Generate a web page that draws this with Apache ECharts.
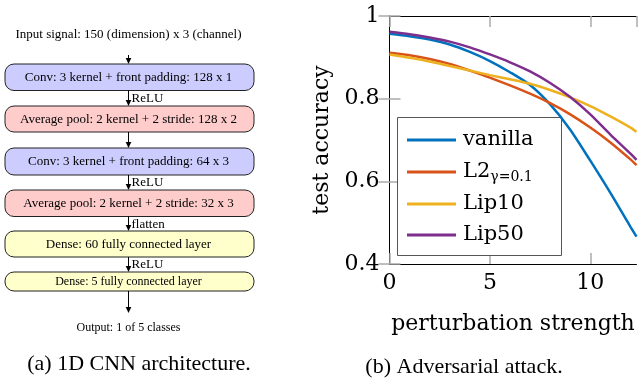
<!DOCTYPE html>
<html>
<head>
<meta charset="utf-8">
<script src="https://cdn.jsdelivr.net/npm/echarts@6/dist/echarts.min.js"></script>
<style>html,body{margin:0;padding:0;background:#fff}#c{width:639px;height:379px}</style>
</head>
<body>
<div id="c"></div>
<script>
// ---- data ----
const xs = [0, 1, 2, 3, 4, 5, 6, 7, 8, 9, 10, 11, 12, 12.3];
const vanilla = [0.957, 0.951, 0.943, 0.931, 0.913, 0.891, 0.864, 0.833, 0.786, 0.725, 0.650, 0.572, 0.490, 0.466];
const l2      = [0.911, 0.905, 0.896, 0.884, 0.868, 0.851, 0.832, 0.812, 0.789, 0.762, 0.730, 0.694, 0.653, 0.639];
const lip10   = [0.907, 0.899, 0.890, 0.879, 0.868, 0.857, 0.847, 0.836, 0.821, 0.803, 0.782, 0.757, 0.730, 0.720];
const lip50   = [0.962, 0.956, 0.948, 0.938, 0.924, 0.907, 0.888, 0.866, 0.838, 0.804, 0.762, 0.713, 0.667, 0.652];
const seriesNames = ['vanilla', 'L2', 'Lip10', 'Lip50'];
const yTicks = [0.4, 0.6, 0.8, 1];
const xTicks = [0, 5, 10];

// architecture diagram text
const inputText = 'Input signal: 150 (dimension) x 3 (channel)';
const layers = [
  'Conv: 3 kernel + front padding: 128 x 1',
  'Average pool: 2 kernel + 2 stride: 128 x 2',
  'Conv: 3 kernel + front padding: 64 x 3',
  'Average pool: 2 kernel + 2 stride: 32 x 3',
  'Dense: 60 fully connected layer',
  'Dense: 5 fully connected layer'
];
const arrowLabels = ['ReLU', '', 'ReLU', 'flatten', 'ReLU'];
const outputText = 'Output: 1 of 5 classes';
const captionA = '(a) 1D CNN architecture.';
const captionB = '(b) Adversarial attack.';

// ---- styling / layout ----
const SERIF = 'DejaVu Serif';
const TIMES = 'Liberation Serif';
const colors = ['#0072BD', '#D95319', '#EDB120', '#7E2F8E'];
const layerFills = ['#ccccff', '#ffcccc', '#ccccff', '#ffcccc', '#ffffcc', '#ffffcc'];
const boxTop = [64, 106, 148, 190, 231, 272];
const boxBot = [90.5, 132, 175, 216.5, 257, 291];
const boxFont = [13, 13, 13, 13, 13, 12];
const AX = 128.5;

const graphics = [];
function arrow(y1, y2) {
  graphics.push({type: 'line', shape: {x1: AX, y1: y1, x2: AX, y2: y2 - 4}, style: {stroke: '#000', lineWidth: 1}});
  graphics.push({type: 'polygon', shape: {points: [[AX - 2.8, y2 - 6], [AX + 2.8, y2 - 6], [AX, y2]]}, style: {fill: '#000'}});
}
graphics.push({type: 'text', x: AX, y: 35, style: {text: inputText, font: '13px "' + TIMES + '"', fill: '#000', textAlign: 'center', textVerticalAlign: 'middle'}});
arrow(55, 64);
layers.forEach((t, i) => {
  graphics.push({type: 'rect', shape: {x: 5, y: boxTop[i], width: 249, height: boxBot[i] - boxTop[i], r: 9},
    style: {fill: layerFills[i], stroke: '#222', lineWidth: 1}});
  graphics.push({type: 'text', x: AX, y: (boxTop[i] + boxBot[i]) / 2 + 0.5,
    style: {text: t, font: boxFont[i] + 'px "' + TIMES + '"', fill: '#000', textAlign: 'center', textVerticalAlign: 'middle'}});
  if (i < layers.length - 1) {
    arrow(boxBot[i], boxTop[i + 1]);
    if (arrowLabels[i]) {
      graphics.push({type: 'text', x: AX + 3, y: (boxBot[i] + boxTop[i + 1]) / 2 + 0.5,
        style: {text: arrowLabels[i], font: '13px "' + TIMES + '"', fill: '#000', textAlign: 'left', textVerticalAlign: 'middle'}});
    }
  }
});
arrow(291, 313);
graphics.push({type: 'text', x: AX, y: 328, style: {text: outputText, font: '12px "' + TIMES + '"', fill: '#000', textAlign: 'center', textVerticalAlign: 'middle'}});
graphics.push({type: 'text', x: 139, y: 364, style: {text: captionA, font: '22px "' + TIMES + '"', fill: '#000', textAlign: 'center', textVerticalAlign: 'middle'}});
graphics.push({type: 'text', x: 464, y: 367, style: {text: captionB, font: '22px "' + TIMES + '"', fill: '#000', textAlign: 'center', textVerticalAlign: 'middle'}});
// legend frame
graphics.push({type: 'rect', z: 3, shape: {x: 397.5, y: 117.5, width: 164, height: 138}, style: {fill: '#fff', stroke: '#555', lineWidth: 1}});

const tickStyle = {show: true, inside: true, length: 11, lineStyle: {color: '#aaa', width: 1.5}};
const axLine = {show: true, lineStyle: {color: '#000', width: 1}};
const lblStyle = {fontFamily: SERIF, fontSize: 22, color: '#000'};

const chart = echarts.init(document.getElementById('c'), null, {renderer: 'canvas'});
const mk = (arr) => xs.map((x, i) => [x, arr[i]]);
const dataSets = [vanilla, l2, lip10, lip50];

chart.setOption({
  animation: false,
  backgroundColor: '#fff',
  graphic: graphics,
  grid: {left: 389.5, top: 16, right: 2.5, bottom: 115, containLabel: false},
  xAxis: [
    {type: 'value', position: 'bottom', min: 0, max: 12.3, interval: 5,
     axisLine: axLine, axisTick: tickStyle, splitLine: {show: false},
     axisLabel: Object.assign({margin: 8, showMaxLabel: false,
       formatter: v => xTicks.indexOf(v) >= 0 ? String(v) : ''}, lblStyle),
     name: 'perturbation strength', nameLocation: 'middle', nameGap: 49,
     nameTextStyle: {fontFamily: SERIF, fontSize: 22, color: '#000'}},
    {type: 'value', position: 'top', min: 0, max: 12.3, interval: 5,
     axisLine: axLine, axisTick: tickStyle, splitLine: {show: false}, axisLabel: {show: false}}
  ],
  yAxis: [
    {type: 'value', position: 'left', min: 0.4, max: 1, interval: 0.2,
     axisLine: axLine, axisTick: tickStyle, splitLine: {show: false},
     axisLabel: Object.assign({margin: 10,
       formatter: v => { const t = yTicks.find(k => Math.abs(k - v) < 1e-6); return t === undefined ? '' : (t === 1 ? '1' : t.toFixed(1)); }}, lblStyle),
     name: 'test accuracy', nameLocation: 'middle', nameGap: 56, nameRotate: 90,
     nameTextStyle: {fontFamily: SERIF, fontSize: 22, color: '#000'}},
    {type: 'value', position: 'right', min: 0.4, max: 1, interval: 0.2,
     axisLine: axLine, axisTick: tickStyle, splitLine: {show: false}, axisLabel: {show: false}}
  ],
  legend: {
    orient: 'vertical', left: 407, top: 129, padding: 0,
    itemWidth: 49, itemHeight: 3, itemGap: 9, z: 5, icon: 'rect',
    data: seriesNames,
    textStyle: {fontFamily: SERIF, fontSize: 21, lineHeight: 22, color: '#000', padding: [0, 0, 0, 2],
      rich: {
        n: {fontFamily: SERIF, fontSize: 21, lineHeight: 22, color: '#000'},
        s: {fontFamily: SERIF, fontSize: 14, lineHeight: 22, color: '#000', padding: [10, 0, 0, 0]}
      }},
    formatter: name => name === 'L2' ? '{n|L2}{s|γ=0.1}' : name
  },
  series: dataSets.map((d, i) => ({
    name: seriesNames[i], type: 'line', data: mk(d), smooth: 0.25,
    symbol: 'none', showSymbol: false, clip: true,
    lineStyle: {color: colors[i], width: 2.5}, itemStyle: {color: colors[i]}
  }))
});
</script>
</body>
</html>
